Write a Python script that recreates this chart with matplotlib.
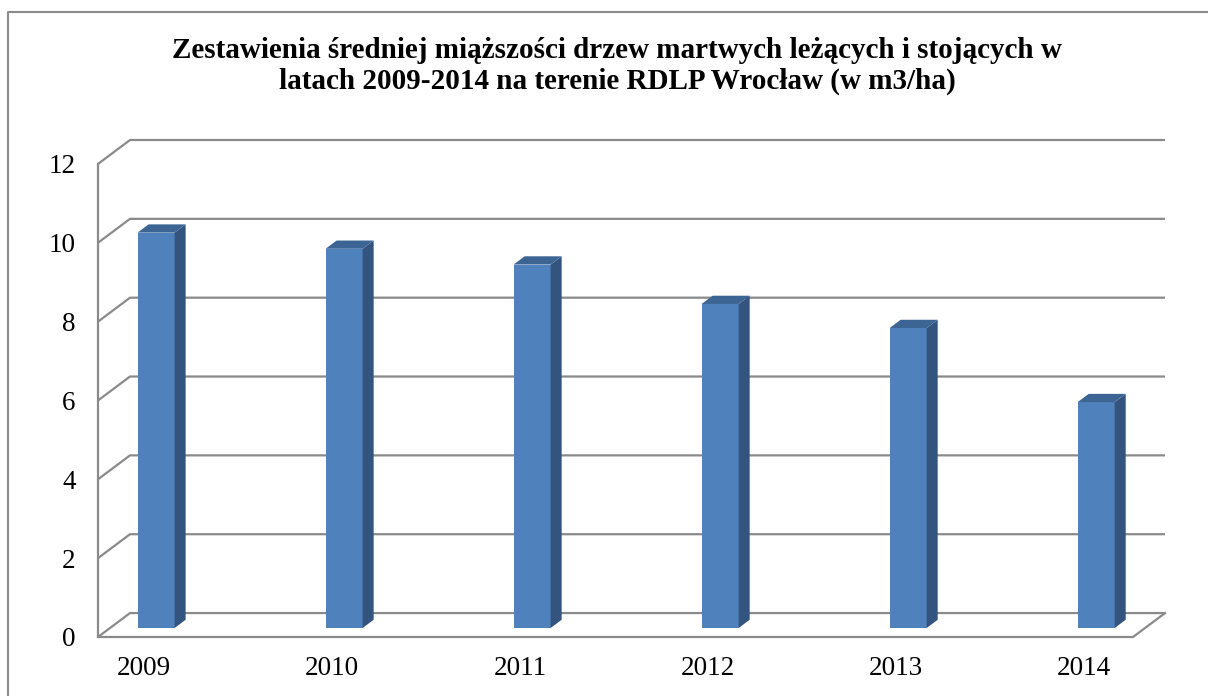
import matplotlib
matplotlib.use("Agg")
import matplotlib.pyplot as plt
from matplotlib.patches import Polygon, Rectangle
from matplotlib.lines import Line2D

# dane z wykresu (m3/ha)
lata = ["2009", "2010", "2011", "2012", "2013", "2014"]
miazszosc = [10.03, 9.62, 9.22, 8.22, 7.61, 5.73]
yticks = [0, 2, 4, 6, 8, 10, 12]
tytul = ("Zestawienia średniej miąższości drzew martwych leżących i stojących w\n"
         "latach 2009-2014 na terenie RDLP Wrocław (w m3/ha)")

plt.rcParams['font.family'] = ['Liberation Serif', 'DejaVu Serif']

W, H = 1208, 696
fig = plt.figure(figsize=(W / 100, H / 100), dpi=100)

# pseudo 3D: przesuniecie w glab (w jednostkach osi)
DX = 32 / 188
DY = 24 / 39.5
x0, x1 = -0.245, 5.43
xfront_r = 5.26
ymax = 12 + DY

ax = fig.add_axes([98 / W, (H - 637) / H, (1165 - 98) / W, (637 - 140) / H])
ax.set_xlim(x0, x1)
ax.set_ylim(0, ymax)
for s in ax.spines.values():
    s.set_visible(False)

grid_c = "#8a8a8a"
lw = 1.6
for v in yticks:
    ax.plot([x0, x0 + DX, x1], [v, v + DY, v + DY], color=grid_c, lw=lw,
            zorder=1, clip_on=False, solid_capstyle="butt")
# os pionowa i podloga
ax.plot([x0, x0], [0, 12], color=grid_c, lw=lw, zorder=1, clip_on=False)
ax.plot([x0, xfront_r, xfront_r + DX], [0, 0, DY], color=grid_c, lw=lw,
        zorder=1, clip_on=False)

# slupki
d0, d1 = 0.375, 0.72
dd = d1 - d0
hw = 0.0985
for i, v in enumerate(miazszosc):
    xl = i - hw + d0 * DX
    xr = i + hw + d0 * DX
    yb = d0 * DY
    top = v + d0 * DY
    ax.add_patch(Rectangle((xl, yb), xr - xl, top - yb, facecolor="#4f81bd",
                           edgecolor="none", zorder=3))
    ax.add_patch(Polygon([(xr, yb), (xr + dd * DX, yb + dd * DY),
                          (xr + dd * DX, top + dd * DY), (xr, top)],
                         closed=True, facecolor="#33547e", edgecolor="none", zorder=3))
    ax.add_patch(Polygon([(xl, top), (xr, top), (xr + dd * DX, top + dd * DY),
                          (xl + dd * DX, top + dd * DY)],
                         closed=True, facecolor="#3d6594", edgecolor="none", zorder=3))

ax.set_yticks(yticks)
ax.set_yticklabels([str(t) for t in yticks])
ax.set_xticks(range(len(lata)))
ax.set_xticklabels(lata)
ax.tick_params(axis="y", length=0, pad=16, labelsize=19.5)
ax.tick_params(axis="x", length=0, pad=14, labelsize=19.5)

fig.text(617 / W, 1 - 66 / H, tytul, ha="center", va="center", fontsize=21,
         fontweight="bold", linespacing=1.22)

# ramka wykresu
fig.add_artist(Line2D([8 / W, 8 / W, 1], [0, 1 - 12 / H, 1 - 12 / H],
                      transform=fig.transFigure, color="#8a8a8a", lw=1.5))

fig.savefig("out.png", dpi=100)
